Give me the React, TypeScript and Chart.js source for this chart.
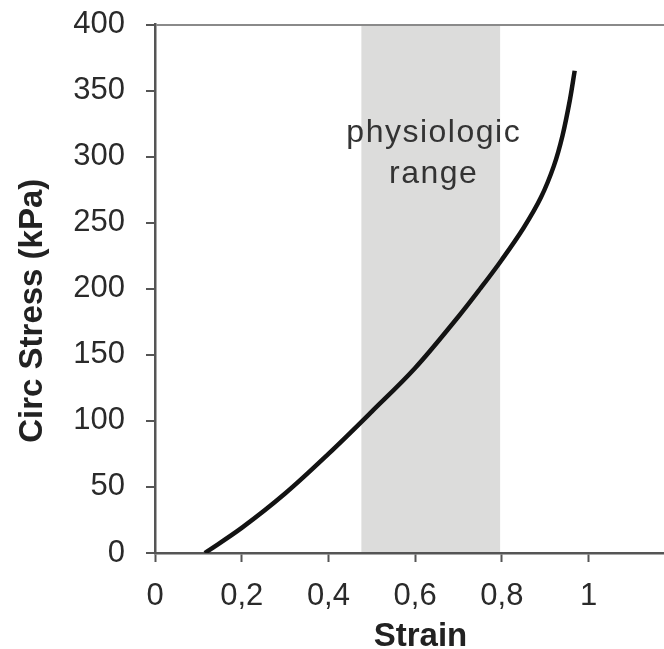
import { useEffect, useRef } from 'react';
import { Chart, registerables } from 'chart.js';

Chart.register(...registerables);

const strain = [0.115, 0.2, 0.3, 0.4, 0.5, 0.6, 0.7, 0.75, 0.8, 0.85, 0.89, 0.92, 0.94, 0.957, 0.968];
const stress = [0, 19, 45, 75, 107, 140, 179, 200, 222, 246, 269, 293, 316, 343, 365];
const xTicks = [0, 0.2, 0.4, 0.6, 0.8, 1];
const yTicks = [0, 50, 100, 150, 200, 250, 300, 350, 400];
const bandRange = [0.476, 0.796];
const bandLabel = ['physiologic', 'range'];
const bandLabelY = [311, 280];
const xTitle = 'Strain';
const yTitle = 'Circ Stress (kPa)';

const FONT = "'Liberation Sans', Arial, Helvetica, sans-serif";

const bandPlugin = {
  id: 'bandPlugin',
  beforeDraw(chart: any) {
    const { ctx, chartArea, scales } = chart;
    const x = scales.x;
    const y = scales.y;
    const x0 = x.getPixelForValue(bandRange[0]);
    const x1 = x.getPixelForValue(bandRange[1]);
    ctx.save();
    ctx.fillStyle = '#dcdcdb';
    ctx.fillRect(x0, chartArea.top, x1 - x0, chartArea.bottom - chartArea.top);
    ctx.fillStyle = '#333333';
    ctx.font = `32px ${FONT}`;
    try {
      (ctx as any).letterSpacing = '1.5px';
    } catch (e) {}
    ctx.textAlign = 'center';
    ctx.textBaseline = 'alphabetic';
    const cx = (x0 + x1) / 2 + 3;
    bandLabel.forEach((t, i) => {
      ctx.fillText(t, cx, y.getPixelForValue(bandLabelY[i]));
    });
    ctx.restore();
  },
};

const titlePlugin = {
  id: 'titlePlugin',
  afterDraw(chart: any) {
    const { ctx, chartArea } = chart;
    ctx.save();
    ctx.fillStyle = '#222';
    ctx.textAlign = 'center';
    ctx.textBaseline = 'alphabetic';
    ctx.font = `bold 33px ${FONT}`;
    ctx.fillText(xTitle, (chartArea.left + chartArea.right) / 2 + 11, chart.height - 3);
    ctx.translate(42, (chartArea.top + chartArea.bottom) / 2 + 22);
    ctx.rotate(-Math.PI / 2);
    ctx.fillText(yTitle, 0, 0);
    ctx.restore();
  },
};

export default function App() {
  const ref = useRef<HTMLCanvasElement | null>(null);
  useEffect(() => {
    if (!ref.current) return;
    const chart = new Chart(ref.current, {
      type: 'line',
      data: {
        datasets: [
          {
            data: strain.map((s, i) => ({ x: s, y: stress[i] })),
            borderColor: '#131313',
            borderWidth: 4.5,
            pointRadius: 0,
            tension: 0.35,
            fill: false,
          },
        ],
      },
      options: {
        animation: false,
        responsive: true,
        maintainAspectRatio: false,
        layout: { padding: { top: 24.5, right: 0, left: 0, bottom: 0 } },
        plugins: { legend: { display: false }, tooltip: { enabled: false } },
        scales: {
          x: {
            type: 'linear',
            min: 0,
            max: 1.174,
            afterBuildTicks: (s: any) => {
              s.ticks = xTicks.map((v) => ({ value: v }));
            },
            afterFit: (s: any) => {
              s.height = 96;
              s.paddingLeft = 0;
              s.paddingRight = 0;
            },
            ticks: {
              color: '#2a2a2a',
              font: { family: FONT, size: 31 },
              padding: 16,
              callback: (v: any) => String(v).replace('.', ','),
            },
            grid: {
              drawOnChartArea: false,
              drawTicks: true,
              tickLength: 9,
              tickColor: '#555',
              tickWidth: 2,
            },
            border: { display: true, color: '#555', width: 2.5 },
            title: { display: false },
          },
          y: {
            type: 'linear',
            min: 0,
            max: 400,
            afterBuildTicks: (s: any) => {
              s.ticks = yTicks.map((v) => ({ value: v }));
            },
            afterFit: (s: any) => {
              s.width = 155;
              s.paddingTop = 0;
              s.paddingBottom = 0;
            },
            ticks: {
              color: '#2a2a2a',
              font: { family: FONT, size: 31 },
              padding: 21,
            },
            grid: {
              drawOnChartArea: true,
              color: (c: any) => (c.tick && c.tick.value === 400 ? '#8a8a8a' : 'rgba(0,0,0,0)'),
              lineWidth: 2,
              drawTicks: true,
              tickLength: 9,
              tickColor: '#555',
              tickWidth: 2,
            },
            border: { display: true, color: '#555', width: 2.5 },
            title: { display: false },
          },
        },
      },
      plugins: [bandPlugin, titlePlugin],
    } as any);
    return () => chart.destroy();
  }, []);
  return (
    <div style={{ position: 'fixed', left: 0, top: 0, width: 664, height: 649, background: '#fff' }}>
      <canvas ref={ref} />
    </div>
  );
}
